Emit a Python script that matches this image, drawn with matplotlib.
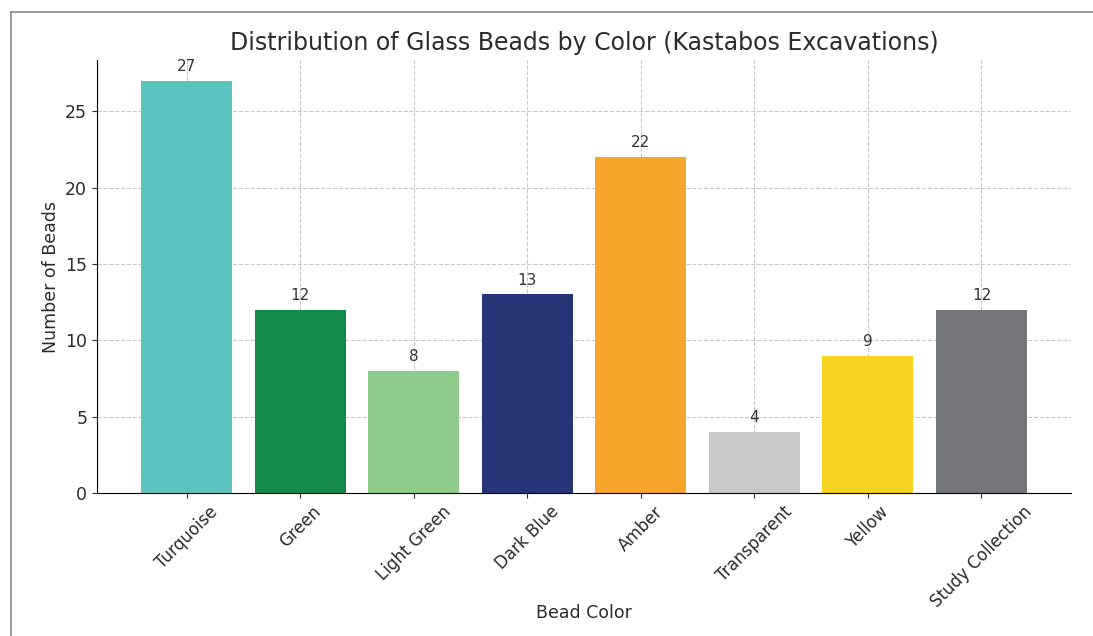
import matplotlib
matplotlib.use('Agg')
import matplotlib.pyplot as plt
from matplotlib.lines import Line2D

colors_names = ['Turquoise', 'Green', 'Light Green', 'Dark Blue', 'Amber',
                'Transparent', 'Yellow', 'Study Collection']
counts = [27, 12, 8, 13, 22, 4, 9, 12]
bar_colors = ['#5bc4bf', '#138a45', '#8fcb8b', '#233575', '#f6a42a',
              '#c8c9c8', '#f7d322', '#737578']

text_color = '#2b2b2b'

fig, ax = plt.subplots(figsize=(10.93, 6.36), dpi=100)
fig.subplots_adjust(left=0.0887, right=0.98, top=0.9057, bottom=0.2248)

bars = ax.bar(colors_names, counts, color=bar_colors, width=0.8, zorder=2)
for rect, v in zip(bars, counts):
    ax.annotate(str(v), (rect.get_x() + rect.get_width() / 2, v),
                xytext=(0, 5), textcoords='offset points',
                ha='center', va='bottom', fontsize=11, color='#333333')

ax.set_title('Distribution of Glass Beads by Color (Kastabos Excavations)',
             fontsize=17, color=text_color, pad=7)
ax.set_xlabel('Bead Color', fontsize=12.5, color=text_color, labelpad=-5)
ax.set_ylabel('Number of Beads', fontsize=12.5, color=text_color)
ax.tick_params(axis='both', labelsize=12, colors=text_color)
ax.tick_params(axis='y', labelsize=12.5)
plt.setp(ax.get_xticklabels(), rotation=45)

ax.grid(True, linestyle='--', color='#bbbbbb', linewidth=0.8, alpha=0.8, zorder=1)
ax.set_axisbelow(True)
ax.spines['top'].set_visible(False)
ax.spines['right'].set_visible(False)

# frame around the figure (only top and left edges fall in view)
fig.add_artist(Line2D([11 / 1093, 11 / 1093], [0, 1 - 12 / 636],
                      transform=fig.transFigure, color='#8a8a8a', linewidth=1.2))
fig.add_artist(Line2D([11 / 1093, 1], [1 - 12 / 636, 1 - 12 / 636],
                      transform=fig.transFigure, color='#8a8a8a', linewidth=1.2))

fig.savefig('out.png', dpi=100)
